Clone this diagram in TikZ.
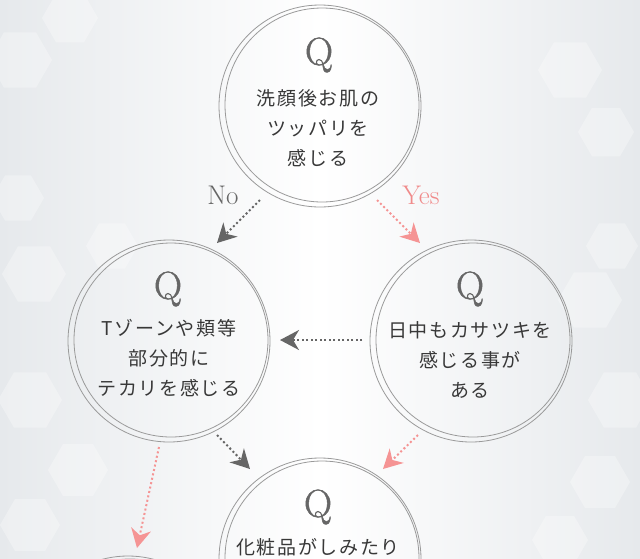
\documentclass[tikz,border=0pt]{standalone}
\usepackage{fontspec}
\usetikzlibrary{arrows.meta}
\newfontfamily\jpfont[LetterSpace=9]{Noto Sans CJK JP}
\newfontfamily\qfont[FakeBold=1.2]{Latin Modern Roman}
\definecolor{ringc}{HTML}{9A9A9A}
\definecolor{qc}{HTML}{666666}
\definecolor{txtc}{HTML}{383838}
\definecolor{nocol}{HTML}{666666}
\definecolor{yescol}{HTML}{F59494}
\definecolor{yestxt}{HTML}{F08A8A}
\definecolor{bgedge}{HTML}{E6E9EC}
\begin{document}
\begin{tikzpicture}[x=1pt,y=-1pt,
  ring/.style={draw=ringc, line width=0.8pt},
  qmark/.style={text=qc, font=\qfont\fontsize{39}{39}\selectfont, inner sep=0pt},
  qtext/.style={text=txtc, align=center, font=\jpfont\fontsize{19}{30}\selectfont, inner sep=0pt},
  lbl/.style={font=\fontsize{27}{27}\selectfont, inner sep=0pt},
  noarrow/.style={draw=nocol, line width=2pt, dash pattern=on 2pt off 2.5pt, -{Stealth[length=19pt,width=20pt,inset=6pt]}},
  yesarrow/.style={draw=yescol, line width=2pt, dash pattern=on 2pt off 2.5pt, -{Stealth[length=19pt,width=20pt,inset=6pt]}},
  hexa/.style={fill=white, opacity=0.3}
]
\useasboundingbox (0,0) rectangle (640,558);
\clip (0,0) rectangle (640,558);
% background
\shade[left color=bgedge, right color=bgedge, middle color=white] (0,0) rectangle (640,558);
\foreach \cx/\cy/\r in {18/198/26, 34/274/32, 112/246/26, 20/60/32, 70/18/28, 30/400/32, 78/470/30, 30/525/30,
  570/70/32, 606/132/28, 612/246/26, 590/300/32, 620/400/32, 600/482/30, 560/540/28}
  \fill[hexa] (\cx,\cy) +(0:\r) -- +(60:\r) -- +(120:\r) -- +(180:\r) -- +(240:\r) -- +(300:\r) -- cycle;
% circles
\foreach \cx/\cy in {320/106, 169/341, 471/341, 320/559, 128/657} {
  \draw[ring] (\cx,\cy) circle[radius=101];
  \draw[ring] (\cx+2,\cy-1) circle[radius=97];
}
% top
\node[qmark] (q1) at (319,55) {Q};
\node[qtext] (t1) at (318,128) {洗顔後お肌の\\ツッパリを\\感じる};
% left
\node[qmark] (q2) at (168,289) {Q};
\node[qtext] (t2) at (169,358) {Tゾーンや頬等\\部分的に\\テカリを感じる};
% right
\node[qmark] (q3) at (470,289) {Q};
\node[qtext] (t3) at (470,360) {日中もカサツキを\\感じる事が\\ある};
% bottom
\node[qmark] (q4) at (318,507) {Q};
\node[qtext] (t4) at (318,547) {化粧品がしみたり};
% labels
\node[lbl, text=nocol] (no) at (223,195) {No};
\node[lbl, text=yestxt] (yes) at (421,195) {Yes};
% connector end points
\coordinate (noS) at (260,200);
\coordinate (noE) at (217,243);
\coordinate (yesS) at (377,200);
\coordinate (yesE) at (420,243);
\coordinate (hS) at (362,340);
\coordinate (hE) at (280,340);
\coordinate (lbS) at (217,435);
\coordinate (lbE) at (250,469);
\coordinate (rbS) at (418,435);
\coordinate (rbE) at (383,469);
\coordinate (ldS) at (159,447);
\coordinate (ldE) at (137,548);
\draw[noarrow] (noS) -- (noE);
\draw[yesarrow] (yesS) -- (yesE);
\draw[noarrow] (hS) -- (hE);
\draw[noarrow] (lbS) -- (lbE);
\draw[yesarrow] (rbS) -- (rbE);
\draw[yesarrow] (ldS) -- (ldE);
\end{tikzpicture}
\end{document}
